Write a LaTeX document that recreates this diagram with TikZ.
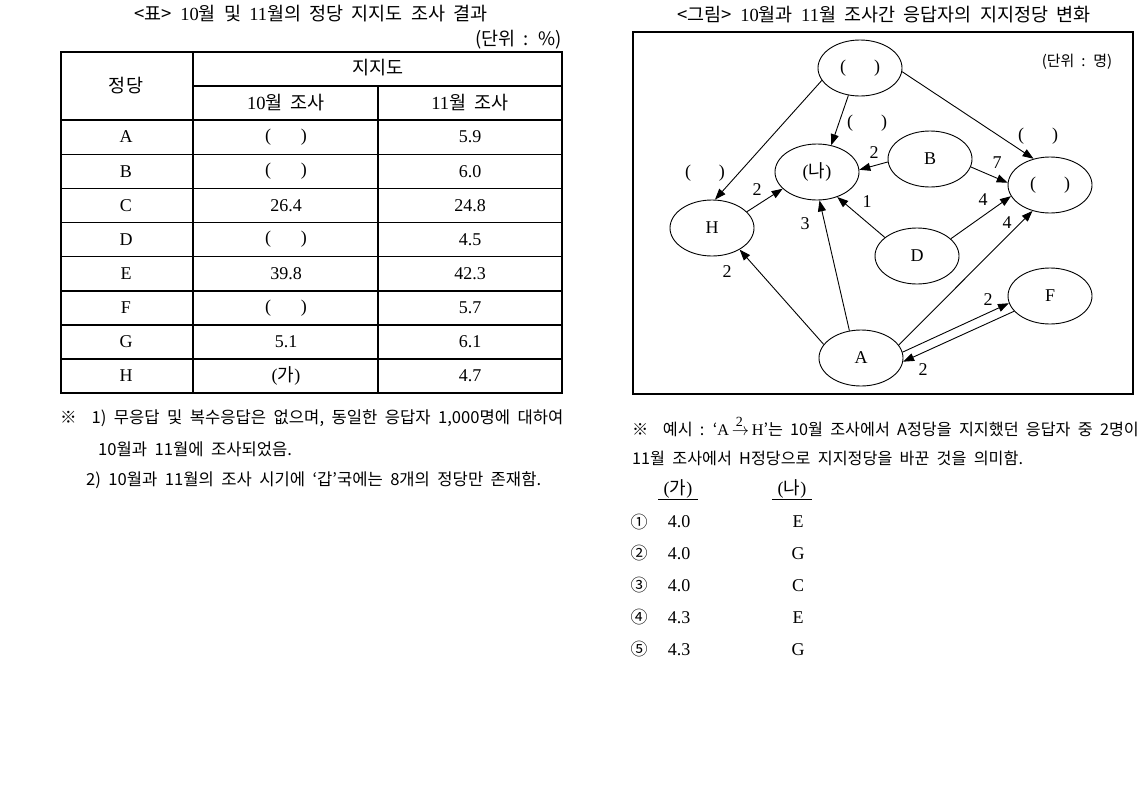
\documentclass[tikz,border=0pt]{standalone}
\usepackage{fontspec}
\setmainfont{Liberation Serif}
\newfontfamily\kr{Noto Sans CJK KR}[WordSpace=2]
\usetikzlibrary{shapes.geometric,arrows.meta}
\newcommand\K[1]{{\kr #1}}
\begin{document}
\begin{tikzpicture}[x=1pt,y=-1pt,
  every node/.style={inner sep=0pt},
  party/.style={ellipse, draw, line width=0.9pt, minimum width=84pt, minimum height=56pt, inner sep=0pt, font=\fontsize{18}{20}\selectfont},
  lab/.style={font=\fontsize{18}{20}\selectfont},
  arr/.style={-{Triangle[length=11pt,width=8pt]}, line width=0.9pt},
  ttl/.style={font=\fontsize{18.5}{20}\selectfont},
  cell/.style={font=\fontsize{18}{20}\selectfont},
  note/.style={font=\kr\fontsize{16.6}{20}\selectfont, anchor=west},
  rnote/.style={font=\kr\fontsize{16.2}{20}\selectfont, anchor=west},
  grid/.style={line width=1.1pt}]
\useasboundingbox (0,0) rectangle (1143,803);
% ---------------- left: table ----------------
\node[ttl] (t1) at (311,14) {\K{<표> }10\K{월 및 }11\K{월의 정당 지지도 조사 결과}};
\node[font=\kr\fontsize{18.5}{20}\selectfont, anchor=east] (u1) at (562,40) {(단위 : \%)};
\draw[grid] (61,52) rectangle (562,393);
\draw[grid] (193,52) -- (193,393);
\draw[grid] (193,86) -- (562,86);
\draw[grid] (378,86) -- (378,393);
\foreach \yy in {120,154.5,188.5,222.5,256.5,291,325,359}
  \draw[grid] (61,\yy) -- (562,\yy);
\node[ttl] (h1) at (126,86) {\K{정당}};
\node[ttl] (h2) at (378,68) {\K{지지도}};
\node[ttl] (h3) at (286,103) {10\K{월 조사}};
\node[ttl] (h4) at (470,103) {11\K{월 조사}};
\foreach \nm/\yy/\va/\vb [count=\i] in {A/137/(\hspace{30pt})/5.9, B/171.5/(\hspace{30pt})/6.0, C/205.5/26.4/24.8, D/239.5/(\hspace{30pt})/4.5, E/273.5/39.8/42.3, F/308/(\hspace{30pt})/5.7, G/342/5.1/6.1, H/376/(\K{가})/4.7}{
  \node[cell] (ra\i) at (126,\yy) {\nm};
  \node[cell] (rb\i) at (286,\yy) {\va};
  \node[cell] (rc\i) at (470,\yy) {\vb};
}
\node[note] (n1) at (60,418) {※\ \ 1) 무응답 및 복수응답은 없으며, 동일한 응답자 1,000명에 대하여};
\node[note] (n2) at (98,449) {10월과 11월에 조사되었음.};
\node[note] (n3) at (86,480) {2) 10월과 11월의 조사 시기에 ‘갑’국에는 8개의 정당만 존재함.};
% ---------------- right: diagram ----------------
\node[ttl] (t2) at (884,15) {\K{<그림> }10\K{월과 }11\K{월 조사간 응답자의 지지정당 변화}};
\draw[line width=1.1pt] (633,32) rectangle (1133,394);
\node[font=\kr\fontsize{15}{18}\selectfont] (u2) at (1077,62) {(단위 : 명)};
\node[party] (T) at (860,68) {(\hspace{28pt})};
\node[party] (N) at (817,172) {(\K{나})};
\node[party] (B) at (930,159) {B};
\node[party] (R) at (1050,185) {(\hspace{28pt})};
\node[party] (H) at (712,228) {H};
\node[party] (D) at (917,256) {D};
\node[party] (F) at (1050,296) {F};
\node[party] (A) at (861,358) {A};
\node[lab] (l1) at (867,123) {(\hspace{28pt})};
\node[lab] (l2) at (705,173) {(\hspace{28pt})};
\node[lab] (l3) at (1038,136) {(\hspace{28pt})};
\draw[arr] (T.198) -- (H.84);
\draw[arr] (T.247) -- (N.62);
\draw[arr] (T.355) -- (R.122);
\draw[arr] (B.184) -- (N.3);
\draw[arr] (B.349) -- (R.177);
\draw[arr] (H.25) -- (N.206);
\draw[arr] (D.150) -- (N.309);
\draw[arr] (D.27) -- (R.196);
\draw[arr] (A.113) -- (N.275);
\draw[arr] (A.160) -- (H.322);
\draw[arr] (A.19) -- (R.236);
\draw[arr] (A.8) -- (F.190);
\draw[arr] (F.203) -- (A.355);
\node[lab] (e1) at (874,153) {2};
\node[lab] (e2) at (997,163) {7};
\node[lab] (e3) at (757,190) {2};
\node[lab] (e4) at (867,202) {1};
\node[lab] (e5) at (983,200) {4};
\node[lab] (e6) at (805,224) {3};
\node[lab] (e7) at (1007,223) {4};
\node[lab] (e8) at (727,272) {2};
\node[lab] (e9) at (988,300) {2};
\node[lab] (e10) at (923,370) {2};
% ---------------- right: notes and options ----------------
\node[rnote] (m1) at (632,427) {※\ \ 예시 : ‘{\rmfamily A\,\rlap{\raisebox{9pt}{\hspace{4pt}\fontsize{14}{14}\selectfont 2}}$\rightarrow$\,H}’는 10월 조사에서 A정당을 지지했던 응답자 중 2명이};
\node[rnote] (m2) at (632,458) {11월 조사에서 H정당으로 지지정당을 바꾼 것을 의미함.};
\node[cell] (ga) at (678,489) {(\K{가})};
\node[cell] (na) at (792,489) {(\K{나})};
\draw[line width=1pt] (658,499) -- (698,499);
\draw[line width=1pt] (772,499) -- (812,499);
\foreach \c/\v/\p/\yy [count=\i] in {①/4.0/E/522, ②/4.0/G/553.5, ③/4.0/C/585.5, ④/4.3/E/617.5, ⑤/4.3/G/649.5}{
  \node[font=\kr\fontsize{17}{20}\selectfont] (oc\i) at (639,\yy) {\c};
  \node[cell] (ov\i) at (679,\yy) {\v};
  \node[cell] (op\i) at (798,\yy) {\p};
}
\end{tikzpicture}
\end{document}
